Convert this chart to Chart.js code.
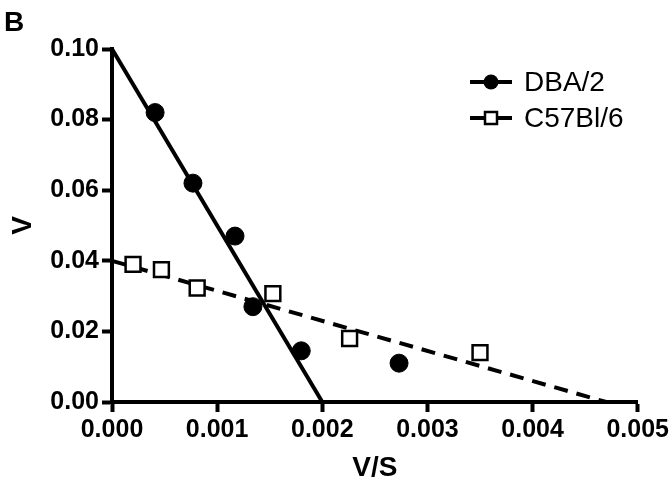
<!DOCTYPE html>
<html>
<head>
<meta charset="utf-8">
<script src="https://cdn.jsdelivr.net/npm/chart.js@4"></script>
<style>
  html, body { margin: 0; padding: 0; background: #fff; }
  #wrap { width: 672px; height: 485px; }
</style>
</head>
<body>
<div id="wrap"><canvas id="chart"></canvas></div>
<script>
// Data
const dbaX = [0.00041, 0.00077, 0.00117, 0.00134, 0.0018, 0.00273];
const dbaY = [0.082, 0.062, 0.047, 0.027, 0.0145, 0.011];
const c57X = [0.0002, 0.00047, 0.00081, 0.00153, 0.00226, 0.0035];
const c57Y = [0.039, 0.0375, 0.0323, 0.0307, 0.018, 0.014];

// Regression line end points
const dbaFitX = [0, 0.002];
const dbaFitY = [0.1, 0];
const c57FitX = [0, 0.0047];
const c57FitY = [0.04, 0];

const xTicks = [0, 0.001, 0.002, 0.003, 0.004, 0.005];
const yTicks = [0, 0.02, 0.04, 0.06, 0.08, 0.10];

const seriesNames = ['DBA/2', 'C57Bl/6'];

const FONT = '"Liberation Sans", Arial, sans-serif';

function pts(xs, ys) { return xs.map((x, i) => ({ x: x, y: ys[i] })); }

// Panel letter + legend with line and marker
const extras = {
    id: 'extras',
    afterDraw(chart) {
        const ctx = chart.ctx;
        ctx.save();
        ctx.fillStyle = '#000';
        ctx.font = 'bold 28px ' + FONT;
        ctx.textBaseline = 'middle';
        ctx.textAlign = 'left';
        ctx.fillText('B', 4, 23);

        ctx.font = '28px ' + FONT;
        const rows = [82, 118];
        rows.forEach((y, i) => {
            ctx.strokeStyle = '#000';
            ctx.lineWidth = 4;
            ctx.setLineDash([]);
            ctx.beginPath();
            ctx.moveTo(470, y); ctx.lineTo(512, y);
            ctx.stroke();
            if (i === 0) {
                ctx.beginPath();
                ctx.arc(491, y, 7.5, 0, Math.PI * 2);
                ctx.fill();
            } else {
                ctx.fillStyle = '#fff';
                ctx.fillRect(485, y - 6, 12, 12);
                ctx.lineWidth = 2.5;
                ctx.strokeRect(485, y - 6, 12, 12);
                ctx.fillStyle = '#000';
            }
            ctx.fillText(seriesNames[i], 524, y + 1);
        });
        ctx.restore();
    }
};

new Chart(document.getElementById('chart'), {
    type: 'scatter',
    data: {
        datasets: [
            {
                label: seriesNames[0] + ' fit',
                data: pts(dbaFitX, dbaFitY),
                showLine: true,
                borderColor: '#000',
                borderWidth: 4,
                pointRadius: 0,
                order: 3
            },
            {
                label: seriesNames[1] + ' fit',
                data: pts(c57FitX, c57FitY),
                showLine: true,
                borderColor: '#000',
                borderWidth: 4,
                borderDash: [14, 9],
                pointRadius: 0,
                order: 4
            },
            {
                label: seriesNames[0],
                data: pts(dbaX, dbaY),
                pointStyle: 'circle',
                pointRadius: 9,
                backgroundColor: '#000',
                borderColor: '#000',
                order: 1
            },
            {
                label: seriesNames[1],
                data: pts(c57X, c57Y),
                pointStyle: 'rect',
                pointRadius: 10.5,
                backgroundColor: '#fff',
                borderColor: '#000',
                borderWidth: 2.5,
                order: 2
            }
        ]
    },
    options: {
        responsive: true,
        maintainAspectRatio: false,
        animation: false,
        clip: false,
        layout: { padding: { left: 0, top: 49, right: 34, bottom: 0 } },
        plugins: {
            legend: { display: false },
            tooltip: { enabled: false }
        },
        scales: {
            x: {
                type: 'linear',
                min: 0,
                max: 0.005,
                afterFit: s => { s.height = 83; },
                afterBuildTicks: s => { s.ticks = xTicks.map(v => ({ value: v })); },
                border: { color: '#000', width: 4 },
                grid: { drawOnChartArea: false, tickLength: 10, tickWidth: 4, tickColor: '#000' },
                ticks: {
                    color: '#000',
                    padding: 3,
                    maxRotation: 0,
                    font: { family: FONT, size: 25, weight: 'bold' },
                    callback: v => v.toFixed(3)
                },
                title: {
                    display: true,
                    text: 'V/S',
                    color: '#000',
                    font: { family: FONT, size: 28, weight: 'bold' },
                    padding: { top: 0, bottom: 0 }
                }
            },
            y: {
                type: 'linear',
                min: 0,
                max: 0.1,
                afterFit: s => { s.width = 112; },
                afterBuildTicks: s => { s.ticks = yTicks.map(v => ({ value: v })); },
                border: { color: '#000', width: 4 },
                grid: { drawOnChartArea: false, tickLength: 10, tickWidth: 4, tickColor: '#000' },
                ticks: {
                    color: '#000',
                    padding: 3,
                    font: { family: FONT, size: 25, weight: 'bold' },
                    callback: v => v.toFixed(2)
                },
                title: {
                    display: true,
                    text: 'V',
                    color: '#000',
                    font: { family: FONT, size: 28, weight: 'bold' },
                    padding: { top: 6, bottom: 0 }
                }
            }
        }
    },
    plugins: [extras]
});
</script>
</body>
</html>
